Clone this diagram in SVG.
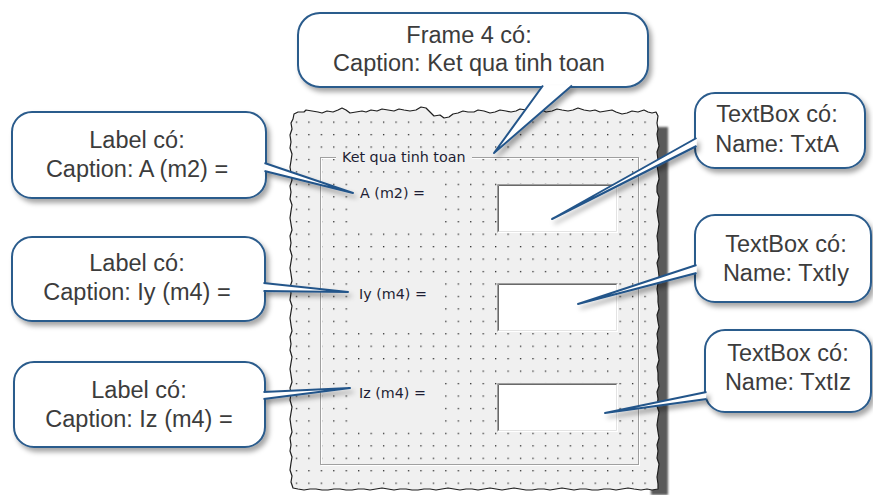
<svg xmlns="http://www.w3.org/2000/svg" width="873" height="495" viewBox="0 0 873 495">
<style>
.ct{font-family:"Liberation Sans",Arial,sans-serif;font-size:23.5px;fill:#3c3c3c;text-anchor:middle}
.fl{font-family:"DejaVu Sans",Tahoma,sans-serif;font-size:14.3px;fill:#1e1e34}
.body{fill:#fff;stroke:#2b5b8c;stroke-width:2}
.wedge{fill:#fff;stroke:#24558a;stroke-width:2;stroke-linejoin:round}
.bg{fill:#f0f0f0}
</style>
<defs>
<filter id="sh" filterUnits="userSpaceOnUse" x="0" y="0" width="873" height="495">
<feDropShadow dx="3" dy="4" stdDeviation="2.5" flood-color="#000" flood-opacity="0.35"/>
</filter>
<filter id="blur" filterUnits="userSpaceOnUse" x="0" y="0" width="873" height="495">
<feGaussianBlur stdDeviation="1.2"/>
</filter>
<pattern id="dots" patternUnits="userSpaceOnUse" x="295.8" y="121.5" width="12.45" height="12.45">
<rect width="1.3" height="1.3" fill="#2a2a2a"/>
</pattern>
<g id="tbox">
<rect x="0" y="0" width="121" height="49" fill="#fff"/>
<path d="M0.5,48.5 H120.5 V0.5" fill="none" stroke="#fff"/>
<path d="M1.5,47.5 H119.5 V1.5" fill="none" stroke="#e3e3e3"/>
<path d="M0.5,48.5 V0.5 H120.5" fill="none" stroke="#a0a0a0"/>
<path d="M1.5,47.5 V1.5 H119.5" fill="none" stroke="#696969"/>
</g>
</defs>

<g id="form">
<rect x="651" y="127" width="17" height="368" fill="#5a5a5a" filter="url(#blur)"/>
<path class="bg" stroke="#1e1e1e" stroke-width="1.2" stroke-linejoin="round" d="M293,119 L294,114 L298,112 L304,112 L306,110 L312,111 L318,112 L322,113 L327,111 L333,112 L338,110 L342,108 L346,110 L350,113 L356,112 L362,111 L366,112 L371,110 L377,111 L382,109 L388,110 L394,111 L399,109 L404,110 L410,111 L416,110 L421,107 L426,108 L430,112 L434,116 L440,115 L444,118 L449,117 L453,114 L458,113 L463,111 L468,112 L474,112 L478,110 L484,111 L490,113 L495,112 L500,110 L506,111 L511,112 L516,111 L520,109 L526,110 L531,112 L537,111 L542,110 L546,112 L552,111 L557,109 L562,110 L568,111 L573,110 L578,108 L584,110 L590,111 L595,110 L600,112 L606,111 L612,110 L616,112 L622,114 L627,113 L632,111 L638,112 L644,110 L648,112 L652,113 L656,112 L658,116 L657,123 L658,129 L657,134 L658,141 L659,146 L657,152 L658,160 L657,166 L658,171 L659,179 L657,186 L657,192 L659,197 L658,205 L657,211 L658,218 L659,224 L658,231 L657,236 L658,243 L658,250 L659,257 L657,263 L658,268 L659,276 L658,283 L657,289 L658,296 L658,302 L659,309 L657,315 L658,322 L659,327 L657,334 L658,341 L657,347 L658,354 L659,360 L657,367 L658,373 L658,380 L659,386 L657,392 L658,399 L657,406 L659,412 L658,418 L657,425 L658,432 L659,438 L657,445 L658,451 L657,458 L659,464 L658,471 L657,477 L658,484 L658,489 L652,490 L647,489 L641,490 L634,489 L628,488 L622,489 L616,490 L610,489 L604,489 L598,490 L592,490 L586,489 L580,489 L574,490 L568,489 L562,488 L556,489 L550,490 L544,489 L538,489 L532,490 L526,490 L520,489 L514,488 L508,489 L502,490 L496,489 L490,488 L484,489 L478,490 L472,489 L466,489 L460,490 L454,489 L448,488 L442,489 L436,490 L430,489 L424,489 L418,490 L412,490 L406,489 L400,489 L394,490 L388,489 L382,488 L376,489 L370,490 L364,489 L358,489 L352,490 L346,490 L340,489 L334,489 L328,490 L322,490 L316,489 L310,489 L304,490 L298,489 L293,488 L291,482 L292,476 L290,470 L291,463 L292,457 L290,451 L291,445 L290,438 L292,432 L291,426 L290,419 L291,413 L292,407 L290,400 L291,394 L290,388 L292,382 L291,375 L290,369 L291,363 L292,357 L290,350 L291,344 L290,337 L292,331 L291,325 L290,318 L291,312 L292,306 L290,300 L291,293 L290,287 L292,281 L291,274 L290,268 L291,262 L292,256 L290,249 L291,243 L290,236 L292,230 L291,224 L290,218 L291,211 L292,205 L290,199 L291,192 L290,186 L292,180 L291,173 L290,167 L291,161 L292,154 L290,148 L291,142 L290,135 L292,129 L291,123 Z"/>
<rect x="295" y="120" width="358" height="366" fill="url(#dots)"/>
<rect x="321.5" y="158.5" width="318" height="307" fill="none" stroke="#fff"/>
<rect x="320.5" y="157.5" width="318" height="307" fill="none" stroke="#a0a0a0"/>
<rect class="bg" x="336" y="150" width="136" height="16"/>
<text class="fl" x="342" y="162">Ket qua tinh toan</text>
<rect class="bg" x="351" y="173" width="93" height="50"/>
<text class="fl" x="360" y="198">A (m2) =</text>
<rect class="bg" x="351" y="275" width="93" height="50"/>
<text class="fl" x="359" y="299">Iy (m4) =</text>
<rect class="bg" x="351" y="373" width="93" height="50"/>
<text class="fl" x="359" y="398">Iz (m4) =</text>
<use href="#tbox" x="497" y="184"/>
<use href="#tbox" x="497" y="283"/>
<use href="#tbox" x="497" y="383"/>
</g>

<g id="callout-frame">
<rect class="body" x="298" y="13" width="350" height="74" rx="22" filter="url(#sh)"/>
<text class="ct" x="469" y="43">Frame 4 có:</text>
<text class="ct" x="469" y="71">Caption: Ket qua tinh toan</text>
</g>
<g id="callout-label-a">
<rect class="body" x="12" y="112" width="254" height="86" rx="20" filter="url(#sh)"/>
<text class="ct" x="137" y="148">Label có:</text>
<text class="ct" x="137" y="177">Caption: A (m2) =</text>
</g>
<g id="callout-label-iy">
<rect class="body" x="12" y="237" width="253" height="84" rx="20" filter="url(#sh)"/>
<text class="ct" x="137" y="271">Label có:</text>
<text class="ct" x="137" y="300">Caption: Iy (m4) =</text>
</g>
<g id="callout-label-iz">
<rect class="body" x="14" y="362" width="251" height="85" rx="20" filter="url(#sh)"/>
<text class="ct" x="139" y="398">Label có:</text>
<text class="ct" x="139" y="427">Caption: Iz (m4) =</text>
</g>
<g id="callout-txta">
<rect class="body" x="695" y="93" width="170" height="75" rx="20" filter="url(#sh)"/>
<text class="ct" x="777" y="122">TextBox có:</text>
<text class="ct" x="777" y="152">Name: TxtA</text>
</g>
<g id="callout-txtiy">
<rect class="body" x="695" y="215" width="176" height="87" rx="20" filter="url(#sh)"/>
<text class="ct" x="786" y="252">TextBox có:</text>
<text class="ct" x="786" y="281">Name: TxtIy</text>
</g>
<g id="callout-txtiz">
<rect class="body" x="705" y="330" width="166" height="82" rx="20" filter="url(#sh)"/>
<text class="ct" x="788" y="361">TextBox có:</text>
<text class="ct" x="788" y="390">Name: TxtIz</text>
</g>

<g id="connectors" filter="url(#sh)">
<path class="wedge" d="M543,85.5 L494,153 L572,85.5"/>
<path class="wedge" d="M264.5,163 L353,193 L264.5,171"/>
<path class="wedge" d="M263.5,283 L348,292 L263.5,291"/>
<path class="wedge" d="M263.5,392 L350,388 L263.5,399"/>
<path class="wedge" d="M696.5,138 L552,219 L696.5,146"/>
<path class="wedge" d="M696.5,265 L578,304 L696.5,273"/>
<path class="wedge" d="M706.5,392 L605,413 L706.5,399"/>
</g>
</svg>
